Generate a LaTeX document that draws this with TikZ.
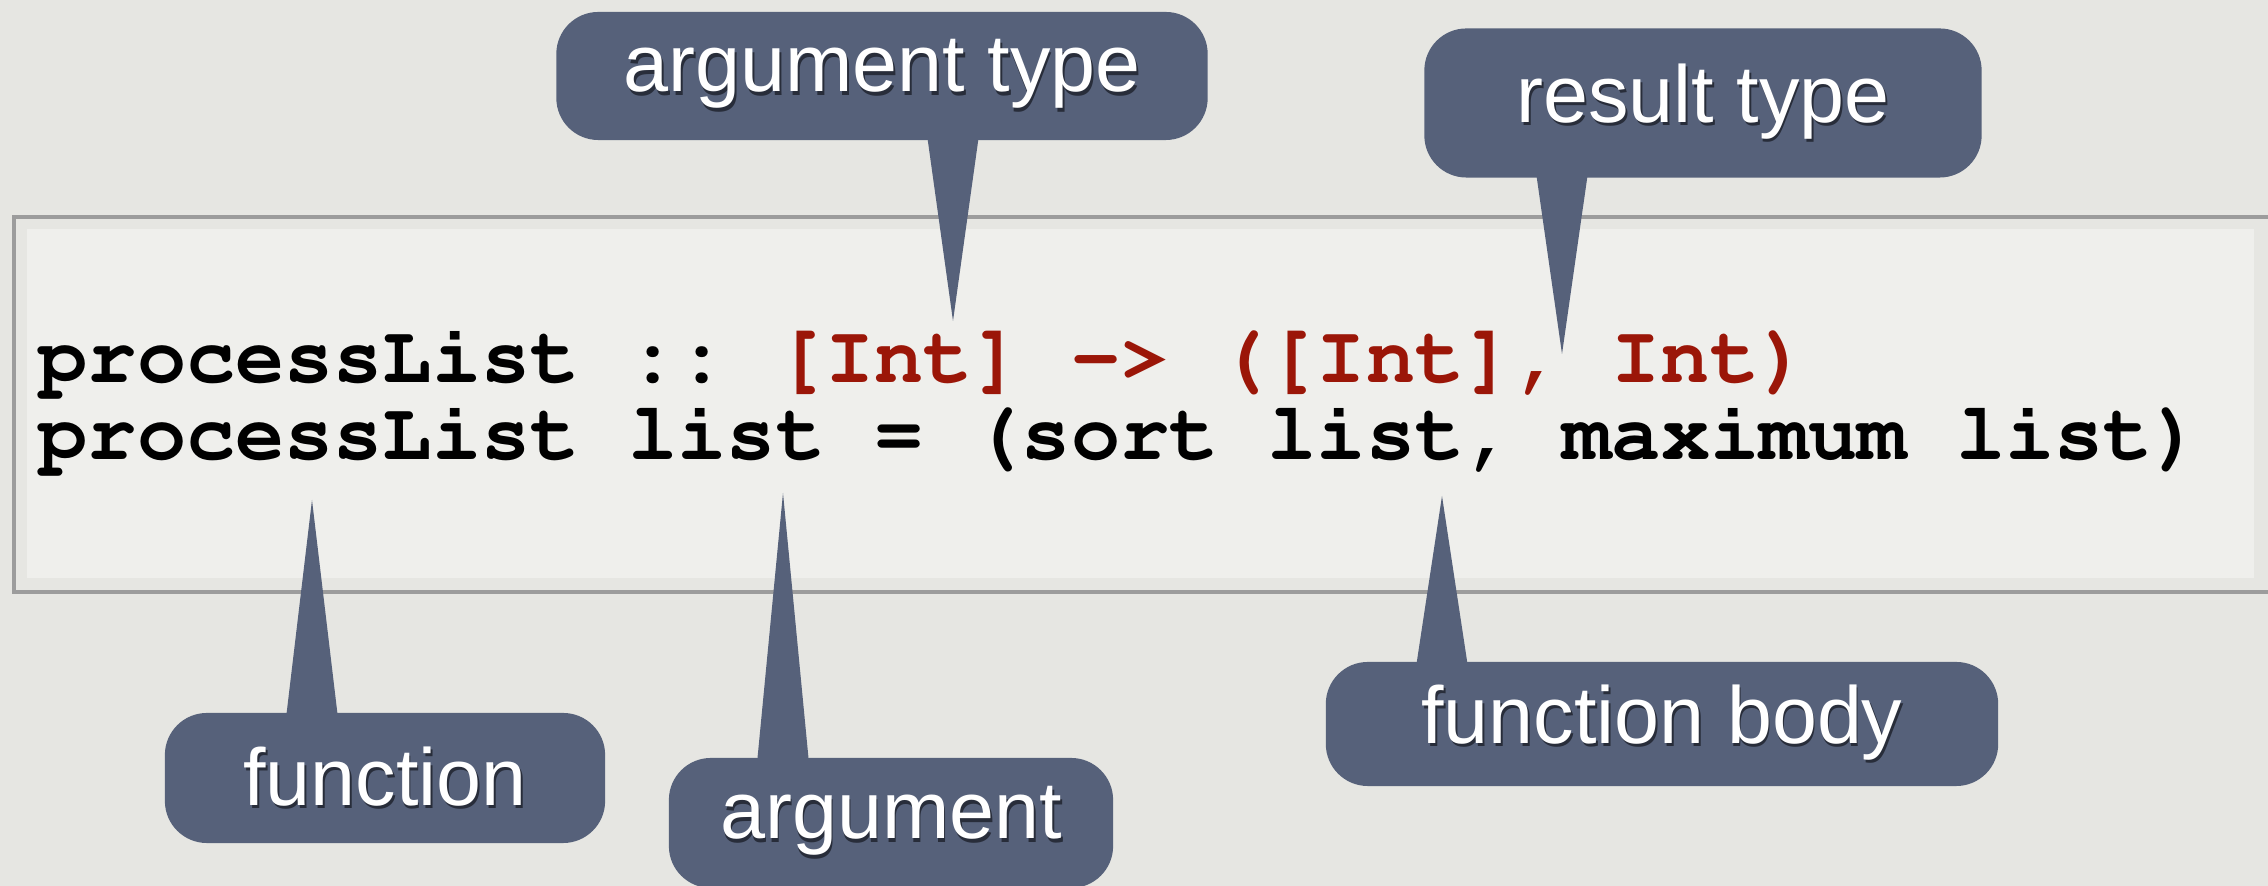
\documentclass[tikz,border=0pt]{standalone}
\usepackage[T1]{fontenc}
\usepackage{fontspec}
\setmainfont{Liberation Sans}
\usepackage{xcolor}
\usetikzlibrary{positioning,calc}

\definecolor{paper}{RGB}{230,230,226}
\definecolor{panel}{RGB}{239,239,236}
\definecolor{frameline}{RGB}{156,156,156}
\definecolor{bubblefill}{RGB}{86,97,122}
\definecolor{bubbleshade}{RGB}{40,45,58}
\definecolor{codered}{RGB}{155,22,8}

\newcommand{\labelfont}{\fontsize{23}{27}\selectfont}
\newcommand{\codefont}{\fontencoding{T1}\fontfamily{pcr}\fontseries{b}\fontsize{23.3}{27}\selectfont\frenchspacing}
% white label with a soft dark shadow under it
\newcommand{\shadowtxt}[1]{\makebox[0pt][l]{\hspace{0.5pt}\raisebox{-1pt}{\textcolor{bubbleshade}{#1}}}#1}
% tail of a callout: node, tip, side of the node, shift into the node
\newcommand{\calloutTail}[4]{%
  \path (#1.#3 -| #2) coordinate (#1-base);
  \fill[tail] ($(#1-base)+(-26,#4)$) -- (#2) -- ($(#1-base)+(26,#4)$) -- cycle;}

\begin{document}
\begin{tikzpicture}[x=0.01cm, y=-0.01cm,
    bubble/.style={fill=bubblefill, rounded corners=0.42cm, inner sep=0pt, text=white, font=\labelfont},
    tail/.style={fill=bubblefill},
    codeline/.style={anchor=base west, inner sep=0pt, font=\codefont}]
    \useasboundingbox (0,0) rectangle (2268,886);
    \clip (0,0) rectangle (2268,886);
    \fill[paper] (0,0) rectangle (2268,886);

    % code panel
    \draw[frameline, line width=0.9pt] (14,217) rectangle (2320,592);
    \fill[panel] (27,229) rectangle (2254,578);
    \node[codeline] (sig) at (38,383) {processList :: \textcolor{codered}{[Int] -> ([Int], Int)}};
    \node[codeline] (def) at (38,460) {processList list = (sort list, maximum list)};

    % callouts above the code
    \node[bubble, minimum width=6.51cm, minimum height=1.28cm] (argtype) at (882,76) {\shadowtxt{argument type}};
    \node[bubble, minimum width=5.57cm, minimum height=1.49cm] (restype) at (1703,103) {\shadowtxt{result type}};
    \coordinate (argtypetip) at (953,321);
    \coordinate (restypetip) at (1562,354);
    \calloutTail{argtype}{argtypetip}{south}{-6}
    \calloutTail{restype}{restypetip}{south}{-6}

    % callouts below the code
    \node[bubble, minimum width=4.40cm, minimum height=1.30cm] (func) at (385,778) {\shadowtxt{function}};
    \node[bubble, minimum width=4.44cm, minimum height=1.30cm] (arg) at (891,823) {\shadowtxt{argument}};
    \node[bubble, minimum width=6.72cm, minimum height=1.24cm] (body) at (1662,724) {\shadowtxt{function body}};
    \coordinate (functip) at (312,500);
    \coordinate (argtip) at (783,493);
    \coordinate (bodytip) at (1442,496);
    \calloutTail{func}{functip}{north}{6}
    \calloutTail{arg}{argtip}{north}{6}
    \calloutTail{body}{bodytip}{north}{6}
\end{tikzpicture}
\end{document}
